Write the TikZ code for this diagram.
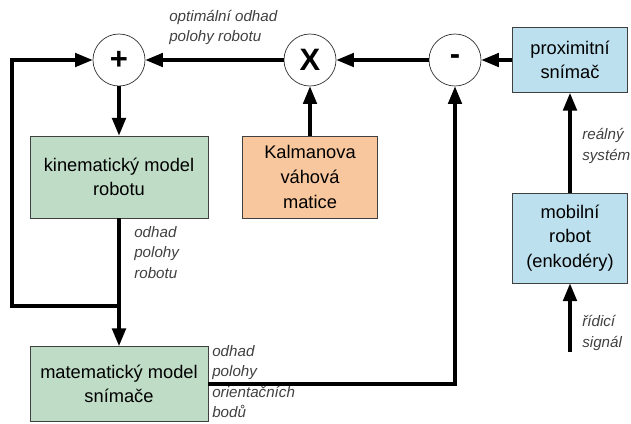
\documentclass[tikz,border=0pt]{standalone}
\usepackage{fontspec}
\setmainfont{Liberation Sans}
\usetikzlibrary{arrows.meta}
\definecolor{kingreen}{HTML}{BFDCC6}
\definecolor{kalorange}{HTML}{F9C79D}
\definecolor{sensblue}{HTML}{BCE0EE}
\tikzset{
  junction/.style={circle, draw=black!80, fill=white, line width=0.5pt, minimum size=1.3cm, inner sep=0pt, font=\bfseries\fontsize{22}{22}\selectfont},
  block/.style={draw=black!75, line width=0.6pt, align=center, inner sep=0pt, font=\fontsize{13}{17.5}\selectfont},
  note/.style={anchor=north west, align=left, inner sep=0pt, text=black!75, font=\itshape\fontsize{10.8}{14.6}\selectfont},
  flow/.style={line width=2.2pt, draw=black, -{Triangle[width=0.34cm,length=0.44cm]}},
}

\begin{document}
\begin{tikzpicture}[x=0.025cm, y=-0.025cm]
\useasboundingbox (0,0) rectangle (631,423);
\node[junction] (plus) at (119,60) {+};
\node[junction] (times) at (310,60) {X};
\node[junction] (minus) at (455,60) {-};
\node[block, fill=sensblue, minimum width=2.875cm, minimum height=1.625cm] (prox) at (570,60) {proximitní\\snímač};
\node[block, fill=sensblue, minimum width=2.875cm, minimum height=2.25cm] (mobil) at (570,238) {mobilní\\robot\\(enkodéry)};
\node[block, fill=kingreen, minimum width=4.45cm, minimum height=2.05cm] (kin) at (119,177) {kinematický model\\robotu};
\node[block, fill=kalorange, minimum width=3.375cm, minimum height=2.05cm] (kal) at (310,177) {Kalmanova\\váhová\\matice};
\node[block, fill=kingreen, minimum width=4.45cm, minimum height=1.875cm] (mat) at (119,384) {matematický model\\snímače};
\coordinate (split) at (119,306);
\coordinate (fb) at (12,306);
\coordinate (sig) at (570,352);
% main loop
\draw[flow] (prox) -- (minus);
\draw[flow] (minus) -- (times);
\draw[flow] (times) -- (plus);
\draw[flow] (plus) -- (kin);
\draw[flow] (kal) -- (times);
\draw[flow] (kin) -- (mat);
\draw[flow] (split) -- (fb) |- (plus.west);
\draw[flow] (mat.east) -| (minus.south);
\draw[flow] (mobil) -- (prox);
\draw[flow] (sig) -- (mobil);
% labels
\node[note] (optlab) at (169,10) {optimální odhad\\polohy robotu};
\node[note] (kinlab) at (134,226) {odhad\\polohy\\robotu};
\node[note] (matlab) at (212,345) {odhad\\polohy\\orientačních\\bodů};
\node[note] (reallab) at (582,128) {reálný\\systém};
\node[note] (siglab) at (582,315) {řídicí\\signál};
\end{tikzpicture}
\end{document}
